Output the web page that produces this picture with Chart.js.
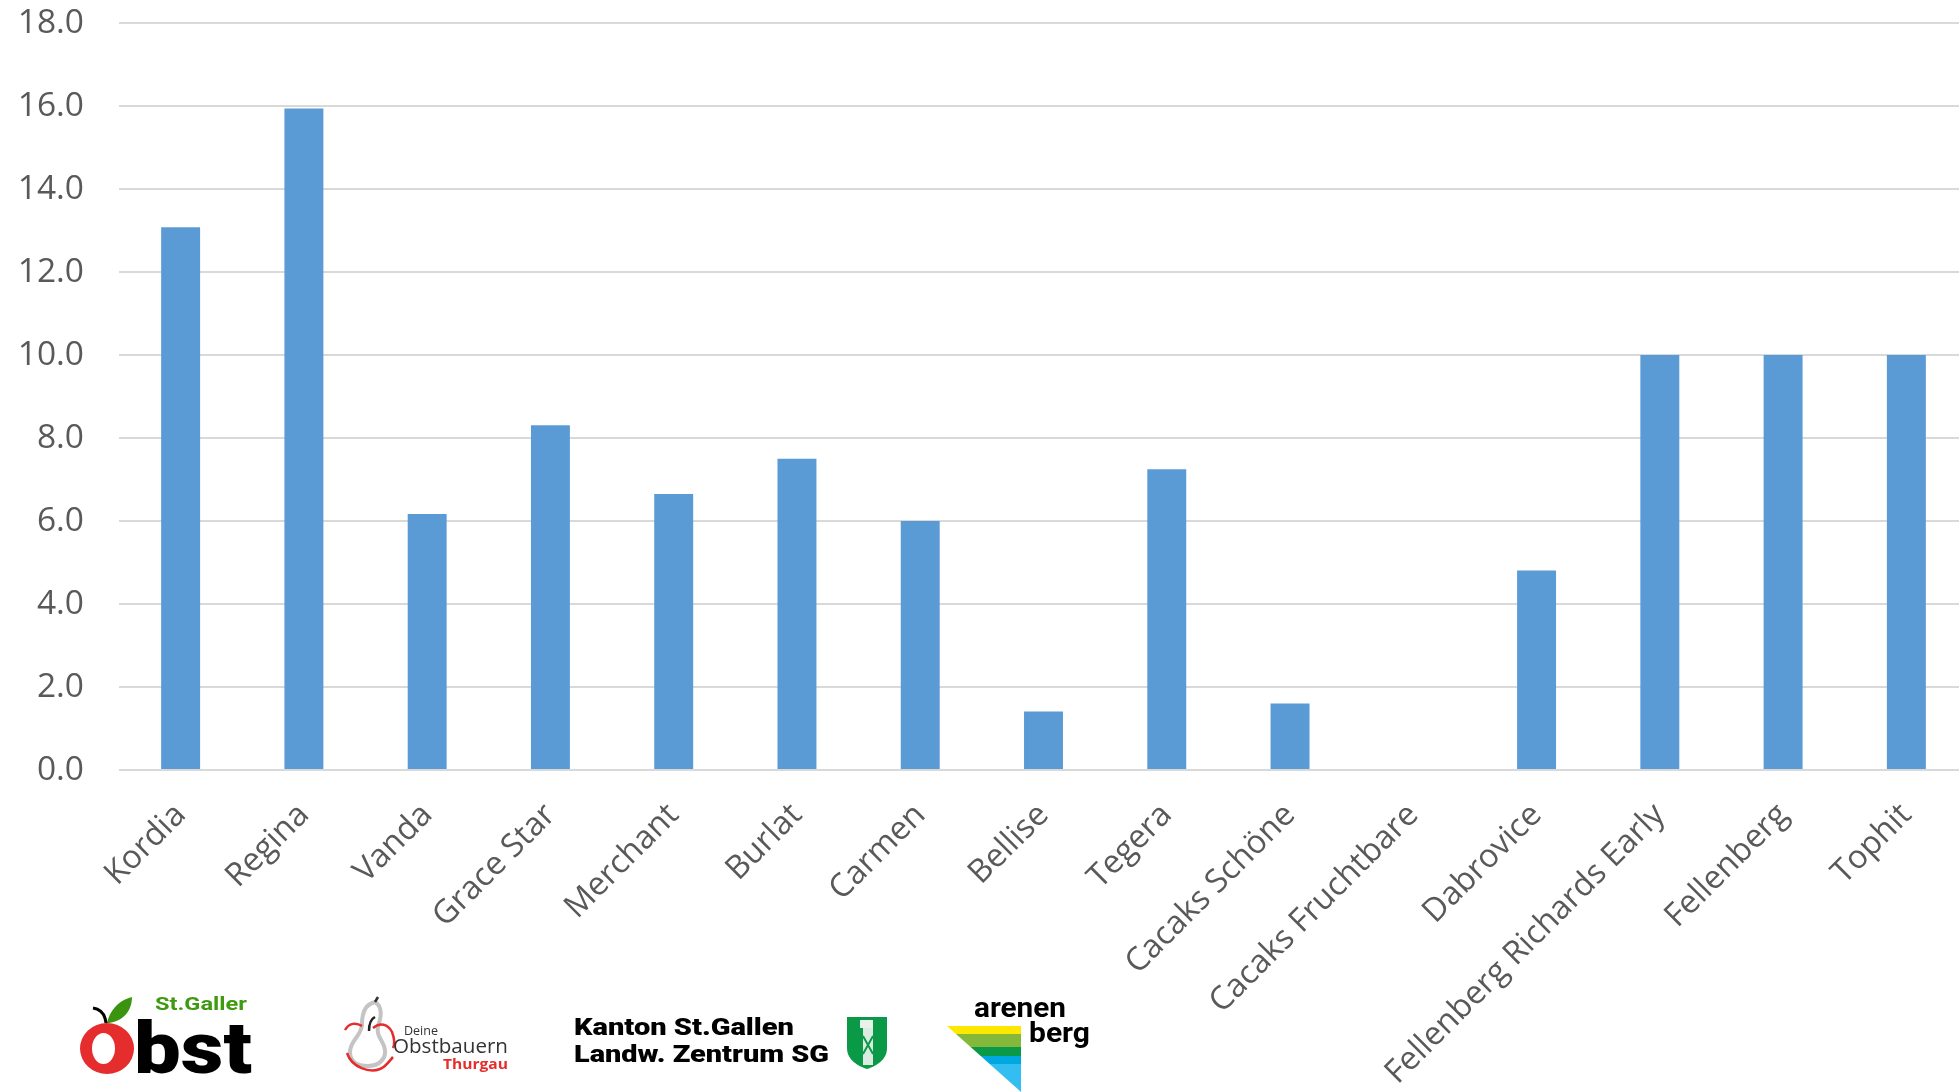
<!DOCTYPE html>
<html>
<head>
<meta charset="utf-8">
<style>
html,body{margin:0;padding:0;background:#fff;width:1959px;height:1092px;overflow:hidden}
#wrap{position:relative;width:1959px;height:1092px;overflow:hidden}
canvas{position:absolute;left:0;top:0}
svg{position:absolute;left:0;top:0}
</style>
<script src="https://cdn.jsdelivr.net/npm/chart.js@4"></script>
</head>
<body>
<div id="wrap">
<canvas id="c" width="1968" height="1092" style="width:1968px;height:1092px"></canvas>
<svg width="1959" height="1092" viewBox="0 0 1959 1092" font-family="Roboto, 'Liberation Sans', sans-serif">
  <defs><clipPath id="tri"><polygon points="947,1026 1021,1026 1021,1092"/></clipPath></defs>
  <path d="M107 1023 C110 1009 120 1000 132 997 C132 1010 124 1021 109 1023 Z" fill="#3a9410"/>
  <path d="M93 1008 C100 1009 105 1014 106 1023" fill="none" stroke="#000" stroke-width="3"/>
  <path fill-rule="evenodd" fill="#e52d2d" d="M80 1048.5 a27 25.5 0 1 0 54 0 a27 25.5 0 1 0 -54 0 Z M92 1048.5 a11.5 15.5 0 1 0 23 0 a11.5 15.5 0 1 0 -23 0 Z"/>
  <text x="155" y="1010" font-size="19" font-weight="700" fill="#3f9a10" textLength="92" lengthAdjust="spacingAndGlyphs">St.Galler</text>
  <text x="134" y="1073" font-size="73" font-weight="900" fill="#000" textLength="118" lengthAdjust="spacingAndGlyphs">bst</text>

  <path d="M375 1002 C366 1004 362 1012 362 1024 C362 1036 350 1040 350 1052 C350 1064 360 1066 368 1066 C380 1066 386 1058 385 1050 C384 1040 376 1038 378 1026 C382 1016 382 1006 375 1002 Z" fill="none" stroke="#c4c4c4" stroke-width="4"/>
  <path d="M375 1002 L378 997" fill="none" stroke="#333" stroke-width="2.5"/>
  <path d="M345 1030 C349 1023 356 1022 362 1026" fill="none" stroke="#e52d2d" stroke-width="2.5"/>
  <path d="M373 1028 C380 1022 388 1024 392 1032 C395 1040 395 1044 393 1048" fill="none" stroke="#e52d2d" stroke-width="2.5"/>
  <path d="M347 1053 C352 1068 370 1073 380 1069 C386 1067 390 1060 393 1057" fill="none" stroke="#e52d2d" stroke-width="2.5"/>
  <path d="M369 1031 C369 1024 371 1019 375 1017" fill="none" stroke="#222" stroke-width="2.5"/>
  <text x="404" y="1035" font-size="12" fill="#333" font-family="'Open Sans'" textLength="34" lengthAdjust="spacingAndGlyphs">Deine</text>
  <text x="393" y="1053" font-size="20" fill="#333" font-family="'Open Sans'" textLength="115" lengthAdjust="spacingAndGlyphs">Obstbauern</text>
  <text x="443" y="1069" font-size="14" font-weight="700" fill="#e52d2d" font-family="'Open Sans'" textLength="65" lengthAdjust="spacingAndGlyphs">Thurgau</text>

  <text x="574" y="1035" font-size="24" font-weight="900" fill="#000" textLength="220" lengthAdjust="spacingAndGlyphs">Kanton St.Gallen</text>
  <text x="574" y="1062" font-size="24" font-weight="900" fill="#000" textLength="255" lengthAdjust="spacingAndGlyphs">Landw. Zentrum SG</text>
  <path d="M847 1017 H887 V1048 C887 1060 876 1066 867 1069 C858 1066 847 1060 847 1048 Z" fill="#0a9a47"/>
  <rect x="860" y="1020" width="13" height="8" fill="#e6f2ea"/>
  <rect x="863" y="1028" width="10" height="37" fill="#dcebe1"/>
  <path d="M863 1036 L873 1054 M873 1036 L863 1054" stroke="#0a9a47" stroke-width="2"/>

  <text x="974" y="1017" font-size="28" font-weight="700" fill="#000" textLength="92" lengthAdjust="spacingAndGlyphs">arenen</text>
  <text x="1029" y="1042" font-size="28" font-weight="700" fill="#000" textLength="61" lengthAdjust="spacingAndGlyphs">berg</text>
  <g clip-path="url(#tri)">
    <rect x="947" y="1026" width="74" height="8" fill="#fee800"/>
    <rect x="947" y="1034" width="74" height="13" fill="#84b83a"/>
    <rect x="947" y="1047" width="74" height="9" fill="#0a9a47"/>
    <rect x="947" y="1056" width="74" height="8" fill="#00a8e0"/>
    <rect x="947" y="1064" width="74" height="28" fill="#33bdf0"/>
  </g>
</svg>
</div>
<script>
const categories = ["Kordia","Regina","Vanda","Grace Star","Merchant","Burlat","Carmen","Bellise","Tegera","Cacaks Schöne","Cacaks Fruchtbare","Dabrovice","Fellenberg Richards Early","Fellenberg","Tophit"];
const values = [13.08,15.94,6.17,8.31,6.65,7.5,6.0,1.41,7.25,1.6,null,4.81,10,10,10];
const yMin = 0, yMax = 18, yStep = 2;

new Chart(document.getElementById('c'), {
  type: 'bar',
  data: { labels: categories, datasets: [{ data: values, backgroundColor: '#5b9bd5', borderWidth: 0, categoryPercentage: 1, barPercentage: 0.316 }] },
  options: {
    responsive: false,
    animation: false,
    layout: { padding: { top: 23, left: 0, right: 0, bottom: 0 } },
    plugins: { legend: { display: false }, tooltip: { enabled: false }, title: { display: false } },
    scales: {
      x: {
        grid: { display: false, drawTicks: false },
        border: { display: false },
        afterFit: s => { s.height = 322; s.paddingLeft = 0; s.paddingRight = 0; },
        ticks: { color: '#595959', font: { family: "'Open Sans'", size: 32.5 }, minRotation: 45, maxRotation: 45, autoSkip: false, padding: 26 }
      },
      y: {
        min: yMin, max: yMax,
        afterFit: s => { s.width = 119; s.paddingTop = 0; s.paddingBottom = 0; },
        grid: { color: '#d9d9d9', lineWidth: 2, drawTicks: false },
        border: { display: false },
        ticks: { stepSize: yStep, color: '#595959', font: { family: "'Open Sans'", size: 33.5 }, padding: 35, callback: v => v.toFixed(1) }
      }
    }
  }
});
</script>
</body>
</html>
